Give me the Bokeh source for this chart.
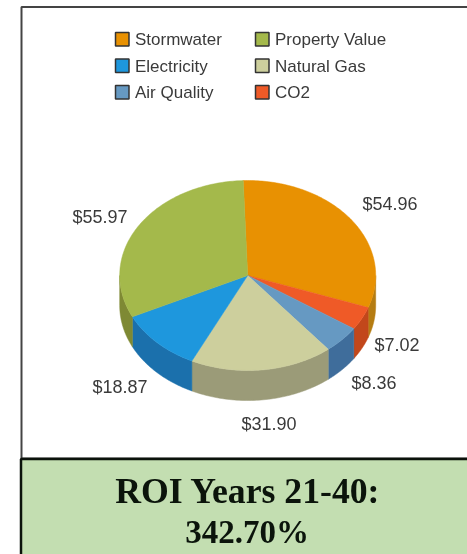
import numpy as np
from bokeh.plotting import figure
from bokeh.models import Range1d
from bokeh.core.properties import value
from bokeh.embed import file_html
from bokeh.resources import INLINE

slices = ["Stormwater", "CO2", "Air Quality", "Natural Gas", "Electricity", "Property Value"]
amounts = [54.96, 7.02, 8.36, 31.90, 18.87, 55.97]
amount_labels = ["$54.96", "$7.02", "$8.36", "$31.90", "$18.87", "$55.97"]
top_colors = ["#E89102", "#EF5A27", "#6699C2", "#CDCF9D", "#1E97DD", "#A4B94B"]
side_colors = ["#B57C12", "#C2471B", "#3F6D9B", "#9B9B78", "#1B70AC", "#7E8934"]
legend_rows = [["Stormwater", "Property Value"], ["Electricity", "Natural Gas"], ["Air Quality", "CO2"]]
title_lines = ["ROI Years 21-40:", "342.70%"]

W, H = 467, 554
CX, CY, RX, RY, DEPTH = 247.2, 275.0, 128.0, 95.0, 30.0
START = np.radians(-2.0)

p = figure(width=W, height=H, x_range=Range1d(0, W), y_range=Range1d(H, 0),
           output_backend="svg", toolbar_location=None, min_border=0,
           outline_line_color=None, background_fill_color="white", border_fill_color="white")
p.axis.visible = False
p.grid.visible = False
p.styles = {"position": "fixed", "left": "0px", "top": "0px"}

# panel frame
p.quad(left=[21], right=[470], top=[6.5], bottom=[458], fill_color="white",
       line_color="#444444", line_width=2)
# ROI band
p.quad(left=[20.5], right=[470], top=[458.5], bottom=[560], fill_color="#C3DEB1",
       line_color="#0B120B", line_width=2.5)

# pie
fr = np.array(amounts) / sum(amounts)
edges = START + 2 * np.pi * np.concatenate([[0], np.cumsum(fr)])

def pt(t, dz=0.0):
    return CX + RX * np.sin(t), CY - RY * np.cos(t) + dz

for i in range(len(slices)):
    lo, hi = max(edges[i], np.pi / 2), min(edges[i + 1], 3 * np.pi / 2)
    if hi > lo:
        t = np.linspace(lo, hi, 60)
        x1, y1 = pt(t)
        x2, y2 = pt(t[::-1], DEPTH)
        p.patch(np.r_[x1, x2], np.r_[y1, y2], fill_color=side_colors[i], line_color=side_colors[i], line_width=0.5)
for i in range(len(slices)):
    t = np.linspace(edges[i], edges[i + 1], 120)
    x, y = pt(t)
    p.patch(np.r_[CX, x], np.r_[CY, y], fill_color=top_colors[i], line_color=top_colors[i], line_width=0.5)

# value labels
lab_x = [362, 374, 351, 241, 92, 72]
lab_y = [203, 344, 382, 423.5, 386, 216]
p.text(lab_x, lab_y, text=amount_labels, text_font=value("Liberation Sans"), text_font_size="18px",
       text_color="#3a3a3a", text_baseline="middle", text_align="left")

# legend
col_x = [115, 255]
row_y = [32, 58.5, 85]
for r, row in enumerate(legend_rows):
    for c, name in enumerate(row):
        p.quad(left=[col_x[c]], right=[col_x[c] + 13.5], top=[row_y[r]], bottom=[row_y[r] + 13.5],
               fill_color=top_colors[slices.index(name)], line_color="#333333", line_width=1.5)
        p.text([col_x[c] + 19.5], [row_y[r] + 7], text=[name], text_font=value("Liberation Sans"),
               text_font_size="17px", text_color="#3a3a3a", text_baseline="middle", text_align="left")

# ROI text
p.text([247.5], [490], text=[title_lines[0]], text_font=value("Liberation Serif"), text_font_style="bold",
       text_font_size="35.7px", text_color="#0b140b", text_align="center", text_baseline="middle")
p.text([246.5], [531], text=[title_lines[1]], text_font=value("Liberation Serif"), text_font_style="bold",
       text_font_size="33px", text_color="#0b140b", text_align="center", text_baseline="middle")

open("out.html", "w").write(file_html(p, INLINE))
